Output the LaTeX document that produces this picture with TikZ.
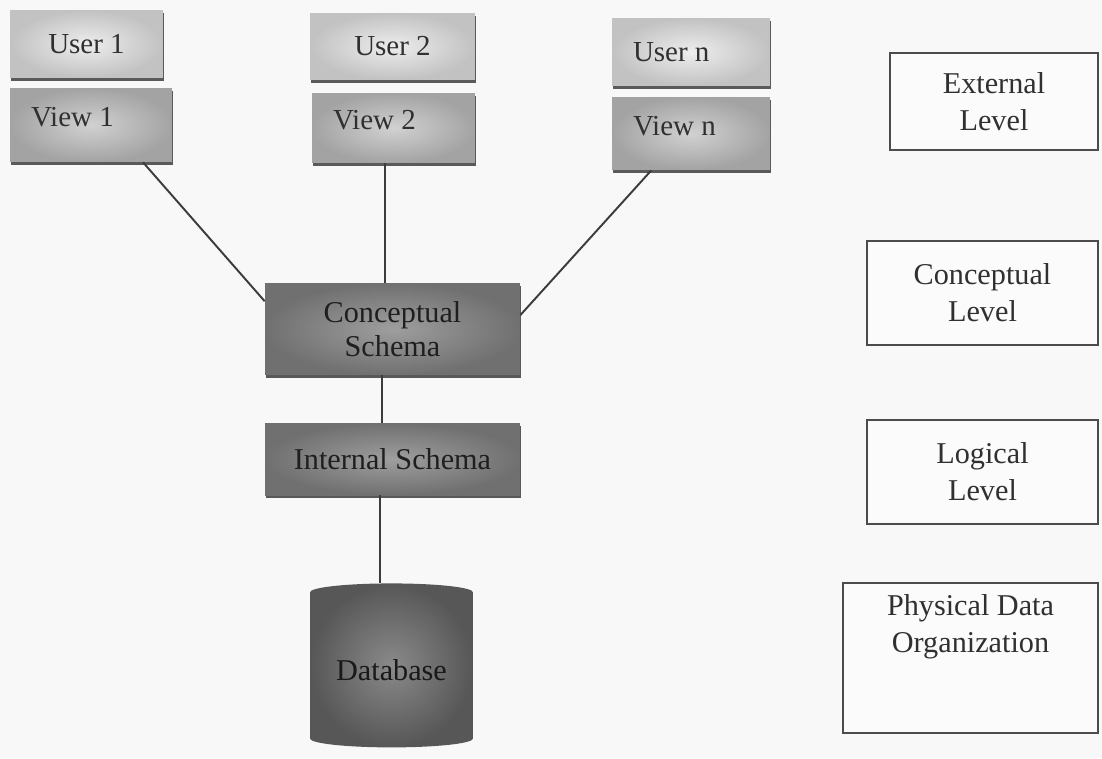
\documentclass[tikz,border=0pt]{standalone}
\usepackage{fontspec}
\setmainfont{Liberation Serif}
\usetikzlibrary{calc,shapes.geometric,shadows}

\definecolor{paper}{HTML}{F8F8F8}
\definecolor{ink}{HTML}{303030}
\definecolor{framec}{HTML}{4C4C4C}
\definecolor{linkc}{HTML}{3C3C3C}
\definecolor{shadowc}{HTML}{5A5A5A}

\tikzset{
  tile/.style={rectangle, inner sep=0pt, text=ink,
    font=\fontsize{16.5}{20}\selectfont,
    drop shadow={shadow xshift=0.6pt, shadow yshift=-1.7pt, fill=shadowc, opacity=1}},
  usertile/.style={tile, shade, inner color=black!7, outer color=black!24},
  viewtile/.style={tile, shade, inner color=black!18, outer color=black!36},
  lefttext/.style={align=flush left, inner xsep=0.42cm},
  raised/.style={text height=0.4cm, text depth=0.34cm},
  schematile/.style={tile, shade, inner color=black!38, outer color=black!56,
    text=black!88, align=center, font=\fontsize{17.2}{19}\selectfont},
  dbshape/.style={cylinder, shape border rotate=90, aspect=0.16, inner sep=0pt,
    minimum width=3.26cm, minimum height=3.28cm, shade, inner color=black!46,
    outer color=black!66, text=black!90, font=\fontsize{17.2}{19}\selectfont},
  levelbox/.style={rectangle, draw=framec, line width=1.1pt, fill=paper!60!white,
    inner sep=0pt, text=ink, align=center, font=\fontsize{17.2}{21}\selectfont},
  link/.style={draw=linkc, line width=1.1pt}
}

\begin{document}
\begin{tikzpicture}[x=0.02cm, y=-0.02cm]
  % page
  \fill[paper] (0,0) rectangle (1102,758);
  \useasboundingbox (0,0) rectangle (1102,758);

  % external views
  \node[usertile, minimum width=3.06cm, minimum height=1.36cm] (u1) at (86.5,44) {User 1};
  \node[viewtile, lefttext, raised, text width=2.40cm, minimum height=1.48cm] (v1) at (91,125) {View 1};
  \node[usertile, minimum width=3.30cm, minimum height=1.34cm] (u2) at (392.5,46.5) {User 2};
  \node[viewtile, lefttext, raised, text width=2.42cm, minimum height=1.40cm] (v2) at (393.5,128) {View 2};
  \node[usertile, lefttext, text width=2.32cm, minimum height=1.36cm] (un) at (691,52) {User n};
  \node[viewtile, lefttext, raised, text width=2.32cm, minimum height=1.46cm] (vn) at (691,133.5) {View n};

  % schemas and stored data
  \node[schematile, minimum width=5.10cm, minimum height=1.84cm] (cs) at (392.5,329) {Conceptual\\Schema};
  \node[schematile, minimum width=5.10cm, minimum height=1.44cm] (is) at (392.5,459) {Internal Schema};
  \node[dbshape] (db) at (391.5,670) {Database};

  % level labels
  \node[levelbox, minimum width=4.16cm, minimum height=1.94cm] (ext) at (994,101.5) {External\\Level};
  \node[levelbox, minimum width=4.62cm, minimum height=2.08cm] (con) at (982.5,293) {Conceptual\\Level};
  \node[levelbox, minimum width=4.62cm, minimum height=2.08cm] (log) at (982.5,472) {Logical\\Level};
  \node[levelbox, minimum width=5.10cm, minimum height=3.00cm] (phys) at (970.5,658) {};
  \node[text=ink, align=center, inner sep=0pt, font=\fontsize{17.2}{21}\selectfont]
    (physlabel) at ($(phys.north)+(0,45)$) {Physical Data\\Organization};

  % connectors
  \draw[link] ($(v1.south west)!0.82!(v1.south east)$) -- ($(cs.north west)!0.2!(cs.south west)$);
  \draw[link] ($(v2.south west)!0.45!(v2.south east)$) coordinate (p2) -- (p2 |- cs.north);
  \draw[link] ($(vn.south west)!0.25!(vn.south east)$) -- ($(cs.north east)!0.35!(cs.south east)$);
  \draw[link] ($(cs.south west)!0.46!(cs.south east)$) coordinate (p3) -- (p3 |- is.north);
  \draw[link] ($(is.south west)!0.45!(is.south east)$) coordinate (p4) -- (p4 |- db.north);
\end{tikzpicture}
\end{document}
